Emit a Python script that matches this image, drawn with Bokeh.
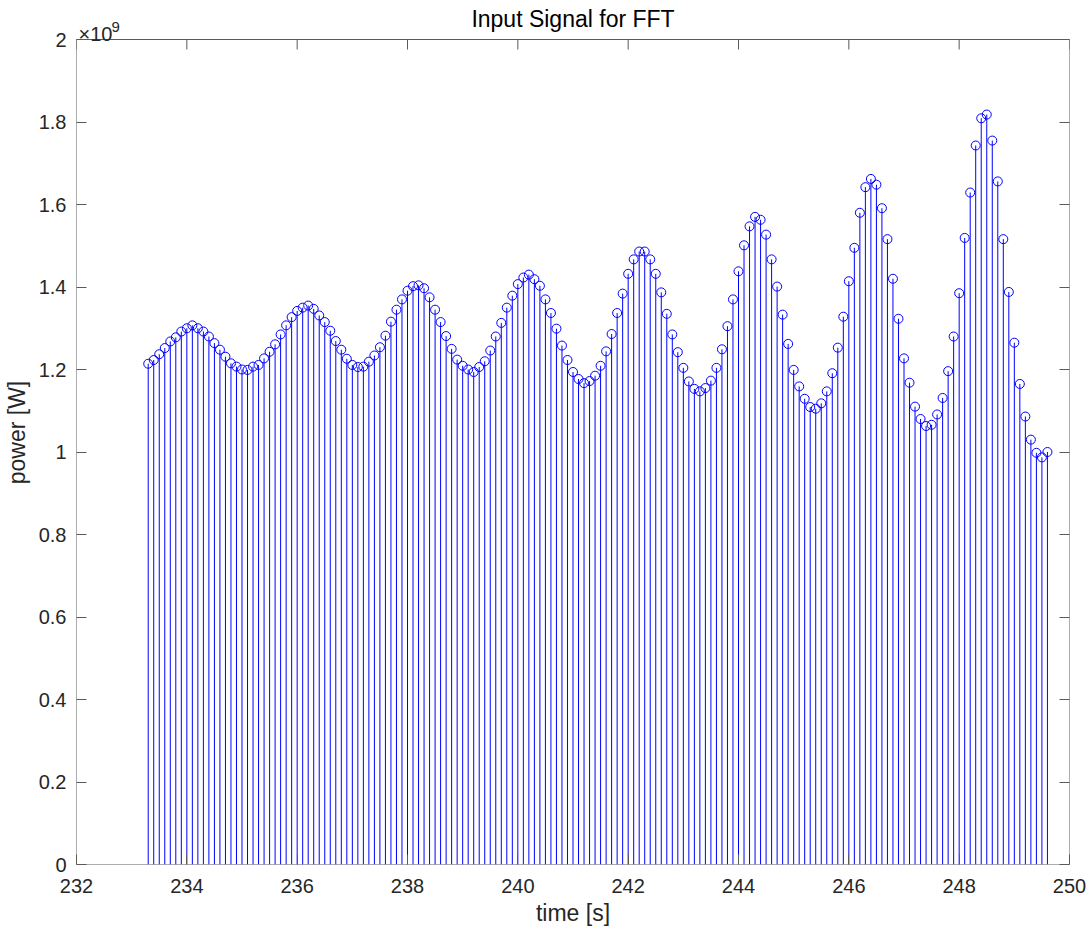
import numpy as np
from bokeh.plotting import figure
from bokeh.models import (LinearAxis, FixedTicker, CustomJSTickFormatter, Range1d,
                          Label, ColumnDataSource)
from bokeh.embed import file_html
from bokeh.resources import INLINE

# Sampled input signal: start time, sample interval, power in units of 1e9 W
t_start = 233.3
t_step = 0.1
power_gw = [
    1.214, 1.223, 1.237, 1.252, 1.268, 1.278, 1.292,
    1.300, 1.307, 1.300, 1.292, 1.280, 1.264, 1.248, 1.231, 1.215, 1.207,
    1.200, 1.199, 1.207, 1.211, 1.227, 1.243, 1.261, 1.285, 1.307, 1.327,
    1.342, 1.350, 1.355, 1.347, 1.331, 1.315, 1.294, 1.269, 1.248, 1.226,
    1.211, 1.206, 1.207, 1.219, 1.234, 1.254, 1.282, 1.316, 1.345, 1.370,
    1.391, 1.402, 1.404, 1.397, 1.375, 1.345, 1.315, 1.281, 1.250, 1.224,
    1.209, 1.200, 1.194, 1.206, 1.220, 1.246, 1.280, 1.313, 1.350, 1.379,
    1.407, 1.423, 1.430, 1.419, 1.403, 1.370, 1.337, 1.299, 1.258, 1.223,
    1.194, 1.177, 1.167, 1.172, 1.185, 1.209, 1.244, 1.286, 1.337, 1.384,
    1.432, 1.467, 1.486, 1.486, 1.467, 1.432, 1.387, 1.335, 1.285, 1.242,
    1.204, 1.171, 1.153, 1.147, 1.155, 1.173, 1.204, 1.249, 1.305, 1.370,
    1.438, 1.501, 1.547, 1.570, 1.563, 1.527, 1.467, 1.401, 1.333, 1.262,
    1.199, 1.159, 1.129, 1.109, 1.105, 1.118, 1.147, 1.191, 1.253, 1.328,
    1.414, 1.495, 1.580, 1.642, 1.662, 1.648, 1.591, 1.516, 1.420, 1.323,
    1.227, 1.168, 1.110, 1.080, 1.063, 1.066, 1.091, 1.131, 1.196, 1.280,
    1.385, 1.519, 1.629, 1.743, 1.809, 1.818, 1.755, 1.656, 1.516, 1.388,
    1.265, 1.165, 1.086, 1.030, 0.998, 0.987, 1.000,
]
x_ticks = [232, 234, 236, 238, 240, 242, 244, 246, 248, 250]
y_ticks_gw = [0, 0.2, 0.4, 0.6, 0.8, 1.0, 1.2, 1.4, 1.6, 1.8, 2.0]
x_lim = (232, 250)
y_lim_gw = (0, 2.0)

time_s = [round(t_start + i * t_step, 1) for i in range(len(power_gw))]
power_w = [v * 1e9 for v in power_gw]
y_ticks_w = [v * 1e9 for v in y_ticks_gw]
y_top = y_lim_gw[1] * 1e9
src = ColumnDataSource(dict(t=time_s, p=power_w))

FONT = "Liberation Sans"
AXIS_COLOR = "#5a5a5a"
TEXT_COLOR = "#262626"
STEM_COLOR = "#0000ff"
W, H = 1090, 930
LEFT, RIGHT, BOTTOM = 73, 21, 66
HEADER = 39                      # room above the axes box for title and exponent
BOX_H = H - BOTTOM - HEADER      # pixel height of the axes box
TICK_LEN = 10

# the frame reaches the top of the canvas; the axes box ends at y_top
y_end = y_top * (BOX_H + HEADER) / BOX_H

p = figure(width=W, height=H, output_backend="svg", toolbar_location=None,
           title=None,
           x_range=Range1d(*x_lim), y_range=Range1d(0, y_end),
           min_border_left=LEFT, min_border_right=RIGHT, min_border_top=0,
           min_border_bottom=BOTTOM, background_fill_color="white",
           border_fill_color="white")

p.xgrid.visible = False
p.ygrid.visible = False
p.outline_line_color = None

fmt_y = CustomJSTickFormatter(code="const v = Math.round(tick / 1e8) / 10; return v.toString();")

def style_axis(ax, show_labels):
    ax.axis_line_color = None
    ax.major_tick_line_color = AXIS_COLOR
    ax.major_tick_in = TICK_LEN
    ax.major_tick_out = 0
    ax.minor_tick_line_color = None
    ax.major_label_text_font = FONT
    ax.major_label_text_font_size = "20px"
    ax.major_label_text_color = TEXT_COLOR if show_labels else None
    ax.axis_label_text_font = FONT
    ax.axis_label_text_font_size = "23px"
    ax.axis_label_text_font_style = "normal"
    ax.axis_label_text_color = TEXT_COLOR

xa = p.xaxis[0]
ya = p.yaxis[0]
xa.ticker = FixedTicker(ticks=x_ticks)
ya.ticker = FixedTicker(ticks=y_ticks_w)
ya.formatter = fmt_y
style_axis(xa, True)
style_axis(ya, True)
xa.axis_label = "time [s]"
ya.axis_label = "power [W]"
xa.major_label_standoff = 14
ya.major_label_standoff = 10
xa.axis_label_standoff = 4
ya.axis_label_standoff = 6

# right side: inward ticks only
right = LinearAxis(ticker=FixedTicker(ticks=y_ticks_w))
style_axis(right, False)
right.major_label_standoff = 0
p.add_layout(right, "right")

# axes box and inward ticks along its top edge
p.quad(left=x_lim[0], right=x_lim[1], bottom=0, top=y_top, fill_color=None,
       line_color=AXIS_COLOR, line_width=1)
p.ray(x=x_ticks, y=[y_top] * len(x_ticks), length=TICK_LEN, length_units="screen",
      angle=-90, angle_units="deg", line_color=AXIS_COLOR, line_width=1)

# stems and open circle markers
p.segment(x0="t", y0=0, x1="t", y1="p", source=src, line_color=STEM_COLOR, line_width=1)
p.scatter("t", "p", source=src, marker="circle", size=9, fill_color=None,
          line_color=STEM_COLOR, line_width=1)

# title and exponent note above the box
p.add_layout(Label(x=sum(x_lim) / 2, y=y_top, y_offset=HEADER - 18,
                   text="Input Signal for FFT", text_font=FONT, text_font_size="23px",
                   text_color="#000000", text_align="center", text_baseline="middle"))
p.add_layout(Label(x=x_lim[0], y=y_top, x_offset=2, y_offset=6, text="×10",
                   text_font=FONT, text_font_size="20px", text_color=TEXT_COLOR,
                   text_baseline="alphabetic"))
p.add_layout(Label(x=x_lim[0], y=y_top, x_offset=35, y_offset=13, text="9",
                   text_font=FONT, text_font_size="15px", text_color=TEXT_COLOR,
                   text_baseline="alphabetic"))

open("out.html", "w").write(file_html(p, INLINE))
